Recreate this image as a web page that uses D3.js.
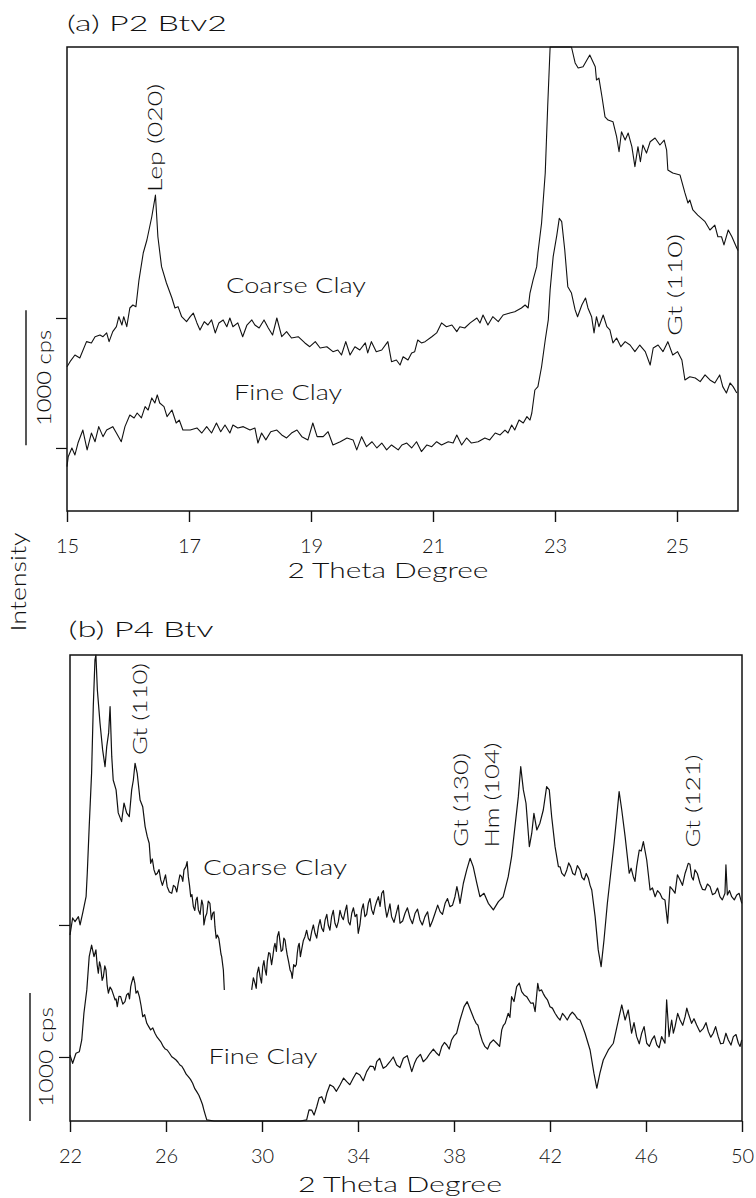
<!DOCTYPE html>
<html><head><meta charset="utf-8">
<script src="https://cdn.jsdelivr.net/npm/d3@7"></script>
<style>body{margin:0;background:#fff}svg{display:block}</style>
</head><body>
<svg id="c" width="756" height="1198"></svg>
<script>
// ---------------- DATA ----------------
// Panel (a) P2 Btv2 : 2-theta (deg) vs intensity (cps)
const aXTicks = [15, 17, 19, 21, 23, 25];
const aYTicks = [1000, 2000];
const aCoarse = [
[15.00,1625],[15.05,1664],[15.13,1715],[15.21,1692],[15.32,1818],[15.40,1808],[15.46,1856],[15.54,1869],[15.59,1856],[15.65,1885],
[15.69,1818],[15.75,1895],[15.81,1933],[15.85,2010],[15.90,1946],[15.93,2010],[15.98,1933],[16.03,2077],[16.08,2100],[16.13,2087],
[16.18,2292],[16.25,2500],[16.31,2600],[16.39,2779],[16.45,2946],[16.49,2625],[16.55,2395],[16.63,2269],[16.72,2154],[16.77,2077],
[16.82,2087],[16.88,2010],[16.96,1972],[17.02,2010],[17.07,2038],[17.13,1962],[17.18,1908],[17.25,1972],[17.31,1946],[17.37,1985],
[17.43,1885],[17.49,1962],[17.56,1985],[17.62,1933],[17.67,2000],[17.72,1933],[17.80,1962],[17.88,1856],[17.95,1946],[18.03,1985],
[18.08,1946],[18.15,1923],[18.23,1985],[18.30,1923],[18.37,1869],[18.44,2000],[18.52,1856],[18.60,1895],[18.68,1846],[18.79,1856],
[18.90,1808],[18.98,1779],[19.07,1818],[19.15,1769],[19.26,1779],[19.36,1741],[19.44,1754],[19.50,1715],[19.57,1818],[19.64,1715],
[19.72,1779],[19.80,1754],[19.89,1808],[19.93,1731],[19.99,1818],[20.07,1741],[20.16,1754],[20.26,1818],[20.32,1664],[20.40,1677],
[20.46,1638],[20.51,1702],[20.59,1677],[20.65,1731],[20.70,1741],[20.75,1831],[20.81,1808],[20.87,1818],[20.98,1856],[21.06,1885],
[21.14,1962],[21.22,1933],[21.31,1946],[21.39,1895],[21.44,1933],[21.52,1923],[21.61,1962],[21.72,2000],[21.77,1962],[21.82,2023],
[21.90,1946],[21.98,2010],[22.07,1972],[22.15,2023],[22.26,2038],[22.34,2048],[22.45,2077],[22.51,2100],[22.56,2077],[22.59,2192],
[22.64,2292],[22.70,2395],[22.72,2500],[22.78,2731],[22.84,3115],[22.88,3625],[22.92,4100],[23.10,4800],[23.27,4115],[23.33,3962],
[23.38,3923],[23.46,3933],[23.57,4023],[23.66,3933],[23.68,3831],[23.72,3846],[23.77,3702],[23.82,3548],[23.87,3523],[23.95,3510],
[24.01,3395],[24.05,3279],[24.09,3433],[24.15,3369],[24.20,3423],[24.26,3318],[24.31,3164],[24.36,3318],[24.40,3202],[24.44,3331],
[24.50,3269],[24.56,3356],[24.64,3385],[24.72,3331],[24.79,3369],[24.83,3292],[24.85,3138],[24.93,3115],[25.05,3100],[25.13,2962],
[25.18,2885],[25.21,2908],[25.26,2831],[25.34,2792],[25.46,2741],[25.54,2677],[25.62,2715],[25.67,2625],[25.73,2625],[25.77,2562],
[25.84,2677],[25.90,2625],[25.98,2538],[26.00,2520]
];
const aFine = [
[15.00,856],[15.02,933],[15.08,1000],[15.13,946],[15.18,1038],[15.26,1138],[15.33,985],[15.40,1115],[15.46,1048],[15.52,1164],
[15.59,1087],[15.65,1138],[15.75,1164],[15.81,1115],[15.89,1048],[15.95,1164],[16.03,1254],[16.10,1231],[16.15,1269],[16.22,1231],
[16.28,1318],[16.33,1292],[16.39,1385],[16.44,1346],[16.48,1408],[16.52,1346],[16.59,1318],[16.64,1241],[16.72,1292],[16.79,1192],
[16.84,1215],[16.90,1138],[17.02,1138],[17.13,1154],[17.21,1115],[17.29,1164],[17.37,1115],[17.45,1192],[17.52,1125],[17.59,1177],
[17.67,1115],[17.72,1177],[17.80,1154],[17.89,1164],[18.00,1138],[18.08,1154],[18.13,1038],[18.19,1115],[18.26,1062],[18.34,1125],
[18.44,1138],[18.52,1100],[18.60,1077],[18.68,1115],[18.77,1138],[18.85,1087],[18.95,1062],[19.03,1192],[19.10,1087],[19.20,1087],
[19.28,1125],[19.36,1023],[19.48,1048],[19.59,1077],[19.69,1062],[19.75,985],[19.83,1087],[19.91,1010],[20.00,1048],[20.08,1000],
[20.16,1038],[20.24,985],[20.32,1023],[20.43,985],[20.49,1023],[20.57,1038],[20.65,1000],[20.73,1048],[20.81,972],[20.90,1023],
[20.98,1010],[21.06,1048],[21.14,1023],[21.25,1048],[21.33,1038],[21.39,1100],[21.47,1023],[21.55,1077],[21.63,1038],[21.74,1048],
[21.85,1077],[21.93,1062],[22.02,1115],[22.10,1100],[22.18,1138],[22.23,1115],[22.29,1177],[22.34,1138],[22.41,1215],[22.48,1192],
[22.54,1241],[22.59,1215],[22.62,1269],[22.67,1446],[22.72,1472],[22.78,1625],[22.84,1831],[22.89,1985],[22.92,2215],[22.97,2472],
[23.03,2638],[23.07,2767],[23.11,2741],[23.16,2523],[23.21,2241],[23.27,2192],[23.33,2062],[23.37,2010],[23.44,2100],[23.50,2154],
[23.54,2077],[23.60,2010],[23.64,1885],[23.68,2010],[23.72,1933],[23.79,2023],[23.85,1933],[23.90,1908],[23.95,1808],[24.01,1846],
[24.08,1779],[24.15,1818],[24.23,1792],[24.31,1741],[24.39,1792],[24.48,1741],[24.56,1638],[24.61,1769],[24.69,1792],[24.77,1741],
[24.85,1818],[24.93,1715],[25.01,1741],[25.08,1677],[25.13,1523],[25.21,1548],[25.30,1538],[25.38,1510],[25.46,1562],[25.54,1523],
[25.62,1500],[25.70,1562],[25.75,1472],[25.81,1423],[25.87,1500],[25.92,1472],[25.98,1423]
];

// Panel (b) P4 Btv
const bXTicks = [22, 26, 30, 34, 38, 42, 46, 50];
const bYTicks = [1000, 2000];
const bCoarse = [
[22.00,1924],[22.11,2053],[22.21,2025],[22.35,2063],[22.42,2000],[22.53,2091],[22.67,2214],[22.72,2394],[22.80,2745],[22.90,3152],
[22.97,3654],[23.04,4008],[23.08,4100],[23.14,3780],[23.25,3530],[23.36,3326],[23.46,3199],[23.53,3351],[23.61,3455],[23.67,3654],
[23.74,3275],[23.80,3098],[23.92,3023],[24.01,2849],[24.15,2783],[24.25,2924],[24.36,2849],[24.47,2820],[24.57,3023],[24.64,3098],
[24.71,3225],[24.80,3149],[24.92,2947],[25.03,2896],[25.13,2745],[25.22,2669],[25.30,2619],[25.36,2467],[25.43,2500],[25.50,2417],
[25.57,2380],[25.64,2392],[25.71,2420],[25.78,2341],[25.85,2300],[25.92,2341],[25.98,2380],[26.05,2290],[26.14,2250],[26.24,2240],
[26.31,2300],[26.38,2290],[26.45,2250],[26.51,2316],[26.58,2380],[26.65,2366],[26.70,2330],[26.75,2417],[26.83,2442],[26.88,2480],
[26.93,2366],[26.98,2300],[27.03,2214],[27.08,2230],[27.14,2139],[27.20,2110],[27.25,2189],[27.30,2210],[27.35,2114],[27.42,2080],
[27.49,2189],[27.54,2150],[27.58,2000],[27.64,2060],[27.70,2089],[27.76,2180],[27.83,2164],[27.89,2040],[27.95,2089],[28.00,2100],
[28.04,1987],[28.09,1900],[28.14,1924],[28.20,1900],[28.25,1836],[28.29,1780],[28.32,1760],[28.39,1659],[28.43,1508],[29.00,null],
[29.57,1508],[29.64,1600],[29.71,1558],[29.76,1520],[29.80,1634],[29.86,1680],[29.92,1608],[29.98,1560],[30.03,1684],[30.08,1730],
[30.13,1659],[30.18,1620],[30.22,1722],[30.28,1790],[30.33,1786],[30.40,1700],[30.45,1760],[30.50,1830],[30.54,1861],[30.60,1800],
[30.64,1911],[30.70,1950],[30.75,1874],[30.80,1800],[30.86,1811],[30.91,1900],[30.96,1886],[31.00,1830],[31.05,1773],[31.11,1720],
[31.17,1659],[31.22,1640],[31.26,1596],[31.32,1700],[31.38,1684],[31.43,1700],[31.47,1786],[31.51,1840],[31.55,1861],[31.60,1760],
[31.65,1811],[31.72,1880],[31.79,1911],[31.86,1960],[31.93,1899],[32.00,1880],[32.07,1949],[32.14,2000],[32.21,1937],[32.28,1900],
[32.35,1987],[32.42,2040],[32.49,1975],[32.56,1950],[32.63,2038],[32.70,2080],[32.76,2000],[32.83,1960],[32.90,2063],[32.97,2110],
[33.04,2013],[33.11,1980],[33.18,2025],[33.25,2110],[33.32,2063],[33.39,2040],[33.46,2101],[33.53,2150],[33.60,2025],[33.67,2000],
[33.74,2089],[33.81,2130],[33.88,2063],[33.95,2080],[34.01,1937],[34.08,2000],[34.15,2114],[34.22,2160],[34.29,2063],[34.36,2080],
[34.43,2164],[34.50,2200],[34.57,2114],[34.64,2080],[34.71,2139],[34.78,2180],[34.85,2214],[34.92,2140],[34.99,2240],[35.06,2260],
[35.13,2139],[35.20,2060],[35.26,2101],[35.33,2160],[35.40,2063],[35.50,2020],[35.61,2101],[35.68,2150],[35.75,2013],[35.86,2030],
[35.96,2089],[36.06,2130],[36.17,2051],[36.27,2010],[36.38,2089],[36.48,2120],[36.58,2038],[36.68,2000],[36.79,2063],[36.90,2100],
[37.00,1987],[37.10,2030],[37.21,2089],[37.32,2150],[37.42,2101],[37.52,2080],[37.63,2164],[37.73,2200],[37.83,2139],[37.94,2150],
[38.04,2214],[38.12,2290],[38.18,2240],[38.25,2164],[38.39,2316],[38.53,2417],[38.67,2505],[38.80,2442],[38.95,2316],[39.08,2214],
[39.25,2240],[39.43,2164],[39.64,2114],[39.85,2177],[40.05,2214],[40.26,2366],[40.40,2517],[40.54,2745],[40.68,2972],[40.78,3199],
[40.89,3023],[41.00,2922],[41.14,2593],[41.24,2695],[41.33,2846],[41.45,2720],[41.58,2771],[41.72,2871],[41.86,3048],[41.97,3023],
[42.07,2820],[42.21,2593],[42.35,2442],[42.42,2440],[42.49,2392],[42.60,2370],[42.70,2417],[42.78,2470],[42.86,2442],[42.95,2390],
[43.04,2379],[43.14,2450],[43.25,2417],[43.33,2360],[43.42,2341],[43.51,2390],[43.60,2354],[43.67,2300],[43.74,2265],[43.88,2063],
[44.01,1811],[44.13,1684],[44.25,1886],[44.39,2164],[44.53,2392],[44.67,2619],[44.78,2820],[44.88,3010],[44.99,2871],[45.13,2669],
[45.30,2392],[45.38,2430],[45.47,2366],[45.54,2330],[45.61,2442],[45.66,2500],[45.72,2568],[45.80,2560],[45.89,2631],[46.03,2492],
[46.10,2380],[46.17,2265],[46.27,2280],[46.38,2214],[46.48,2260],[46.58,2240],[46.68,2200],[46.79,2189],[46.90,2013],[47.00,2290],
[47.10,2270],[47.21,2240],[47.31,2380],[47.42,2341],[47.52,2300],[47.63,2392],[47.70,2430],[47.76,2467],[47.83,2460],[47.90,2366],
[47.97,2340],[48.04,2417],[48.14,2390],[48.25,2316],[48.35,2270],[48.46,2265],[48.56,2310],[48.67,2290],[48.77,2230],[48.88,2240],
[48.98,2280],[49.08,2214],[49.18,2190],[49.29,2240],[49.33,2455],[49.39,2227],[49.48,2260],[49.57,2214],[49.68,2190],[49.78,2227],
[49.88,2240],[49.99,2164]
];
const bFine = [
[22.00,1015],[22.11,952],[22.25,1028],[22.39,1040],[22.49,1129],[22.58,1331],[22.70,1508],[22.80,1760],[22.90,1848],[23.00,1760],
[23.08,1811],[23.13,1700],[23.18,1634],[23.23,1720],[23.28,1684],[23.34,1580],[23.39,1608],[23.45,1690],[23.50,1659],[23.55,1540],
[23.60,1483],[23.67,1530],[23.74,1508],[23.81,1470],[23.88,1432],[23.92,1440],[23.97,1381],[24.04,1460],[24.11,1457],[24.20,1400],
[24.29,1419],[24.36,1470],[24.43,1483],[24.48,1440],[24.53,1533],[24.58,1570],[24.64,1608],[24.70,1560],[24.75,1483],[24.82,1500],
[24.89,1457],[24.96,1390],[25.03,1305],[25.11,1320],[25.20,1255],[25.28,1230],[25.36,1205],[25.45,1220],[25.54,1180],[25.63,1150],
[25.72,1129],[25.80,1110],[25.89,1078],[25.97,1060],[26.05,1053],[26.14,1030],[26.24,1002],[26.33,990],[26.42,977],[26.50,960],
[26.58,939],[26.66,930],[26.75,902],[26.84,870],[26.93,851],[27.02,830],[27.11,801],[27.20,760],[27.28,737],[27.37,710],
[27.45,674],[27.52,640],[27.58,598],[27.64,560],[27.70,523],[28.00,300],[31.60,300],
[31.86,523],[31.96,600],[32.07,598],[32.17,560],[32.28,623],[32.38,690],[32.49,699],[32.60,650],[32.70,725],[32.83,790],
[32.97,775],[33.10,740],[33.25,788],[33.40,840],[33.53,813],[33.66,790],[33.80,839],[33.93,880],[34.08,864],[34.22,820],
[34.36,889],[34.50,930],[34.64,927],[34.70,900],[34.78,964],[34.90,990],[35.05,914],[35.18,930],[35.33,964],[35.47,1000],
[35.61,939],[35.75,920],[35.89,990],[36.05,1010],[36.24,889],[36.35,950],[36.45,990],[36.60,1020],[36.72,964],[36.86,990],
[37.00,1028],[37.14,1060],[37.28,1028],[37.38,1010],[37.49,1078],[37.60,1110],[37.70,1091],[37.80,1060],[37.90,1129],[38.00,1160],
[38.11,1180],[38.25,1280],[38.42,1381],[38.55,1419],[38.74,1331],[38.83,1290],[38.92,1255],[39.00,1240],[39.08,1180],[39.18,1120],
[39.29,1078],[39.40,1060],[39.50,1104],[39.64,1130],[39.78,1104],[39.90,1080],[39.99,1205],[40.06,1240],[40.13,1255],[40.26,1331],
[40.33,1300],[40.40,1457],[40.50,1420],[40.61,1533],[40.72,1560],[40.82,1495],[40.92,1470],[41.03,1457],[41.12,1430],[41.20,1407],
[41.30,1410],[41.38,1343],[41.49,1558],[41.55,1500],[41.65,1508],[41.72,1480],[41.79,1457],[41.90,1430],[42.00,1381],[42.10,1370],
[42.21,1331],[42.32,1300],[42.42,1280],[42.52,1330],[42.63,1305],[42.72,1280],[42.83,1318],[42.93,1340],[43.04,1318],[43.14,1290],
[43.25,1280],[43.36,1230],[43.46,1180],[43.67,1053],[43.83,877],[43.95,763],[44.08,877],[44.22,977],[44.43,1053],[44.64,1104],
[44.85,1280],[44.99,1394],[45.13,1280],[45.26,1356],[45.40,1180],[45.50,1260],[45.61,1154],[45.72,1100],[45.82,1180],[45.92,1230],
[46.03,1104],[46.14,1080],[46.24,1129],[46.35,1160],[46.45,1091],[46.55,1070],[46.65,1154],[46.79,1104],[46.86,1432],[46.96,1154],
[47.07,1280],[47.14,1180],[47.21,1230],[47.32,1330],[47.42,1280],[47.53,1240],[47.63,1305],[47.70,1370],[47.76,1331],[47.90,1255],
[48.00,1290],[48.11,1242],[48.25,1190],[48.39,1217],[48.50,1260],[48.60,1192],[48.70,1150],[48.80,1180],[48.90,1230],[49.01,1154],
[49.11,1100],[49.22,1104],[49.33,1180],[49.43,1129],[49.54,1090],[49.64,1154],[49.75,1170],[49.85,1104],[49.92,1080],[49.99,1129]
];

// Texts
const aTitle = "(a) P2 Btv2";
const bTitle = "(b) P4 Btv";
const xTitle = "2 Theta Degree";
const yTitle = "Intensity";
const seriesNames = ["Coarse Clay", "Fine Clay"];
const scaleBarLabel = "1000 cps";
const aPeaks = ["Lep (020)", "Gt (110)"];
const bPeaks = ["Gt (110)", "Gt (130)", "Hm (104)", "Gt (121)"];

// ---------------- LAYOUT ----------------
const FONT = "Lato, 'DejaVu Sans', sans-serif";
const svg = d3.select("#c");

function txt(s, x, y, size, len, rot) {
  const t = svg.append("text")
    .attr("font-family", FONT).attr("font-weight", 300)
    .attr("font-size", size).attr("fill", "#111")
    .attr("text-anchor", "middle")
    .text(s);
  if (rot) t.attr("transform", `translate(${x},${y}) rotate(-90)`);
  else t.attr("x", x).attr("y", y);
  if (len) t.attr("textLength", len).attr("lengthAdjust", "spacingAndGlyphs");
  return t;
}

function panel(cfg) {
  const x = d3.scaleLinear().domain(cfg.xDomain).range([cfg.left, cfg.right]);
  const y = d3.scaleLinear().domain(cfg.yDomain).range([cfg.bottom, cfg.top]).clamp(true);

  // curves
  const line = d3.line().defined(d => d[1] != null).x(d => x(d[0])).y(d => y(d[1]));
  cfg.series.forEach(s => {
    svg.append("path").datum(s.slice().sort((p, q) => p[0] - q[0])).attr("d", line)
      .attr("fill", "none").attr("stroke", "#111").attr("stroke-width", cfg.stroke)
      .attr("stroke-linejoin", "round");
  });

  // frame
  svg.append("rect").attr("x", cfg.left).attr("y", cfg.top)
    .attr("width", cfg.right - cfg.left).attr("height", cfg.bottom - cfg.top)
    .attr("fill", "none").attr("stroke", "#111").attr("stroke-width", 1.5);

  // x axis ticks + labels
  const gx = svg.append("g").attr("transform", `translate(0,${cfg.bottom})`)
    .call(d3.axisBottom(x).tickValues(cfg.xTicks).tickSize(11).tickPadding(17).tickFormat(d3.format("d")));
  gx.select(".domain").remove();
  gx.selectAll(".tick line").attr("stroke", "#111").attr("stroke-width", 1.4);
  gx.selectAll(".tick text").attr("font-family", FONT).attr("font-weight", 300)
    .attr("font-size", 20).attr("fill", "#111");

  // y ticks (unlabelled)
  const gy = svg.append("g").attr("transform", `translate(${cfg.left},0)`)
    .call(d3.axisLeft(y).tickValues(cfg.yTicks).tickSize(11).tickFormat(""));
  gy.select(".domain").remove();
  gy.selectAll(".tick line").attr("stroke", "#111").attr("stroke-width", 1.2);

  // 1000 cps scale bar
  svg.append("line").attr("x1", cfg.barX).attr("x2", cfg.barX)
    .attr("y1", y(cfg.bar[0])).attr("y2", y(cfg.bar[1]))
    .attr("stroke", "#111").attr("stroke-width", 1.4);
  return {x, y};
}

// Panel (a)
panel({
  xDomain: [15, 26], yDomain: [515, 4085],
  left: 67, right: 738, top: 47, bottom: 511,
  xTicks: aXTicks, yTicks: aYTicks, stroke: 1.1,
  series: [aCoarse, aFine], bar: [1020, 2060], barX: 26
});
txt(aTitle, 147, 31, 22, 160);
txt(aPeaks[0], 162, 138, 19, 108, true);
txt(aPeaks[1], 682, 285, 19, 102, true);
txt(seriesNames[0], 296, 293, 21, 140);
txt(seriesNames[1], 288, 400, 21, 108);
txt(scaleBarLabel, 51, 378, 19, 96, true);
txt(xTitle, 388, 578, 21, 201);

// Intensity (shared)
txt(yTitle, 26, 582, 21, 99, true);

// Panel (b)
panel({
  xDomain: [22, 50], yDomain: [515, 4045],
  left: 70, right: 742, top: 655, bottom: 1121,
  xTicks: bXTicks, yTicks: bYTicks, stroke: 1.2,
  series: [bCoarse, bFine], bar: [485, 1485], barX: 30
});
txt(bTitle, 141, 637, 22, 145);
txt(bPeaks[0], 147, 709, 19, 92, true);
txt(bPeaks[1], 468, 800, 19, 94, true);
txt(bPeaks[2], 499, 795, 19, 105, true);
txt(bPeaks[3], 700, 801, 19, 93, true);
txt(seriesNames[0], 275, 875, 21, 144);
txt(seriesNames[1], 263, 1064, 21, 109);
txt(scaleBarLabel, 53, 1057, 19, 100, true);
txt(xTitle, 400, 1192, 21, 204);
</script>
</body></html>
